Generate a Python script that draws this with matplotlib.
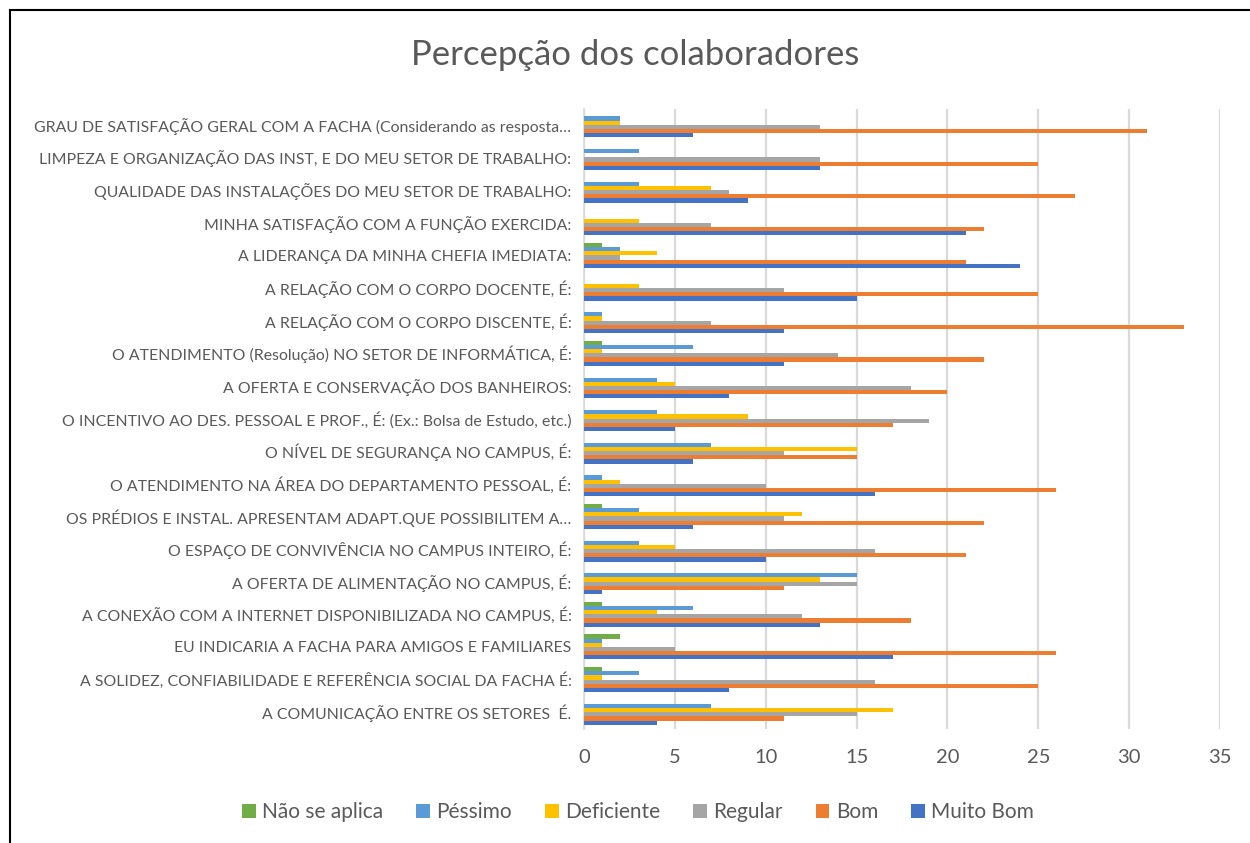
import matplotlib
matplotlib.use("Agg")
import matplotlib.pyplot as plt
import numpy as np
from matplotlib.lines import Line2D
from matplotlib.patches import Patch

plt.rcParams['font.family'] = ['Lato', 'DejaVu Sans']

# Categories, listed top to bottom as in the chart
categories = [
    "GRAU DE SATISFAÇÃO GERAL COM A FACHA (Considerando as resposta…",
    "LIMPEZA E ORGANIZAÇÃO DAS INST, E DO MEU SETOR DE TRABALHO:",
    "QUALIDADE DAS INSTALAÇÕES DO MEU SETOR DE TRABALHO:",
    "MINHA SATISFAÇÃO COM A FUNÇÃO EXERCIDA:",
    "A LIDERANÇA DA MINHA CHEFIA IMEDIATA:",
    "A RELAÇÃO COM O CORPO DOCENTE, É:",
    "A RELAÇÃO COM O CORPO DISCENTE, É:",
    "O ATENDIMENTO (Resolução) NO SETOR DE INFORMÁTICA, É:",
    "A OFERTA E CONSERVAÇÃO DOS BANHEIROS:",
    "O INCENTIVO AO DES. PESSOAL E PROF., É: (Ex.: Bolsa de Estudo, etc.)",
    "O NÍVEL DE SEGURANÇA NO CAMPUS, É:",
    "O ATENDIMENTO NA ÁREA DO DEPARTAMENTO PESSOAL, É:",
    "OS PRÉDIOS E INSTAL. APRESENTAM ADAPT.QUE POSSIBILITEM A…",
    "O ESPAÇO DE CONVIVÊNCIA NO CAMPUS INTEIRO, É:",
    "A OFERTA DE ALIMENTAÇÃO NO CAMPUS, É:",
    "A CONEXÃO COM A INTERNET DISPONIBILIZADA NO CAMPUS, É:",
    "EU INDICARIA A FACHA PARA AMIGOS E FAMILIARES",
    "A SOLIDEZ, CONFIABILIDADE E REFERÊNCIA SOCIAL DA FACHA É:",
    "A COMUNICAÇÃO ENTRE OS SETORES  É.",
]

nao_se_aplica = [0, 0, 0, 0, 1, 0, 0, 1, 0, 0, 0, 0, 1, 0, 0, 1, 2, 1, 0]
pessimo       = [2, 3, 3, 0, 2, 0, 1, 6, 4, 4, 7, 1, 3, 3, 15, 6, 1, 3, 7]
deficiente    = [2, 0, 7, 3, 4, 3, 1, 1, 5, 9, 15, 2, 12, 5, 13, 4, 1, 1, 17]
regular       = [13, 13, 8, 7, 2, 11, 7, 14, 18, 19, 11, 10, 11, 16, 15, 12, 5, 16, 15]
bom           = [31, 25, 27, 22, 21, 25, 33, 22, 20, 17, 15, 26, 22, 21, 11, 18, 26, 25, 11]
muito_bom     = [6, 13, 9, 21, 24, 15, 11, 11, 8, 5, 6, 16, 6, 10, 1, 13, 17, 8, 4]

series_names = ["Não se aplica", "Péssimo", "Deficiente", "Regular", "Bom", "Muito Bom"]
series_values = [nao_se_aplica, pessimo, deficiente, regular, bom, muito_bom]
colors = ["#70AD47", "#5B9BD5", "#FFC000", "#A5A5A5", "#ED7D31", "#4472C4"]

text_color = "#595959"

fig = plt.figure(figsize=(12.5, 8.43), dpi=100)
ax = fig.add_axes([584/1250, 1 - 728.5/843, (1220 - 584)/1250, (728.5 - 108.5)/843])

n = len(categories)
ypos = np.arange(n)[::-1].astype(float)  # top category at highest y
bh = 0.128
offsets = (np.arange(6) - 2.5) * bh  # series 0 top
for i, (name, vals, c) in enumerate(zip(series_names, series_values, colors)):
    ax.barh(ypos + (-offsets[i]), vals, height=bh, color=c, label=name, zorder=3,
            edgecolor='none')

ax.set_xlim(0, 35)
ax.set_ylim(-0.5, n - 0.5)
ax.set_xticks(np.arange(0, 36, 5))
ax.set_yticks(ypos)
ax.set_yticklabels(categories, fontsize=11.4, color=text_color)
ax.tick_params(axis='x', labelsize=14.5, colors=text_color, length=0, pad=15)
ax.tick_params(axis='y', length=0, pad=9)
ax.grid(axis='x', color="#D9D9D9", linewidth=1.6, zorder=0)
for s in ['top', 'right', 'bottom']:
    ax.spines[s].set_visible(False)
ax.spines['left'].set_color("#D9D9D9")
ax.spines['left'].set_linewidth(1.2)

fig.text(635/1250, 1 - 55/843, "Percepção dos colaboradores", ha='center', va='center',
         fontsize=25, color=text_color)

handles = [Patch(facecolor=c, edgecolor='none', label=nm) for nm, c in zip(series_names, colors)]
fig.legend(handles=handles, loc='center', bbox_to_anchor=(638/1250, 1 - 812/843), ncol=6,
           frameon=False, fontsize=15, labelcolor=text_color, handlelength=0.65,
           handleheight=0.65, handletextpad=0.3, columnspacing=1.6)

# chart border (left & top)
fig.add_artist(Line2D([10/1250, 10/1250], [0, 1 - 10/843], transform=fig.transFigure,
                      color='black', linewidth=1.5))
fig.add_artist(Line2D([10/1250, 1], [1 - 10/843, 1 - 10/843], transform=fig.transFigure,
                      color='black', linewidth=1.5))

fig.savefig("out.png", dpi=100)
